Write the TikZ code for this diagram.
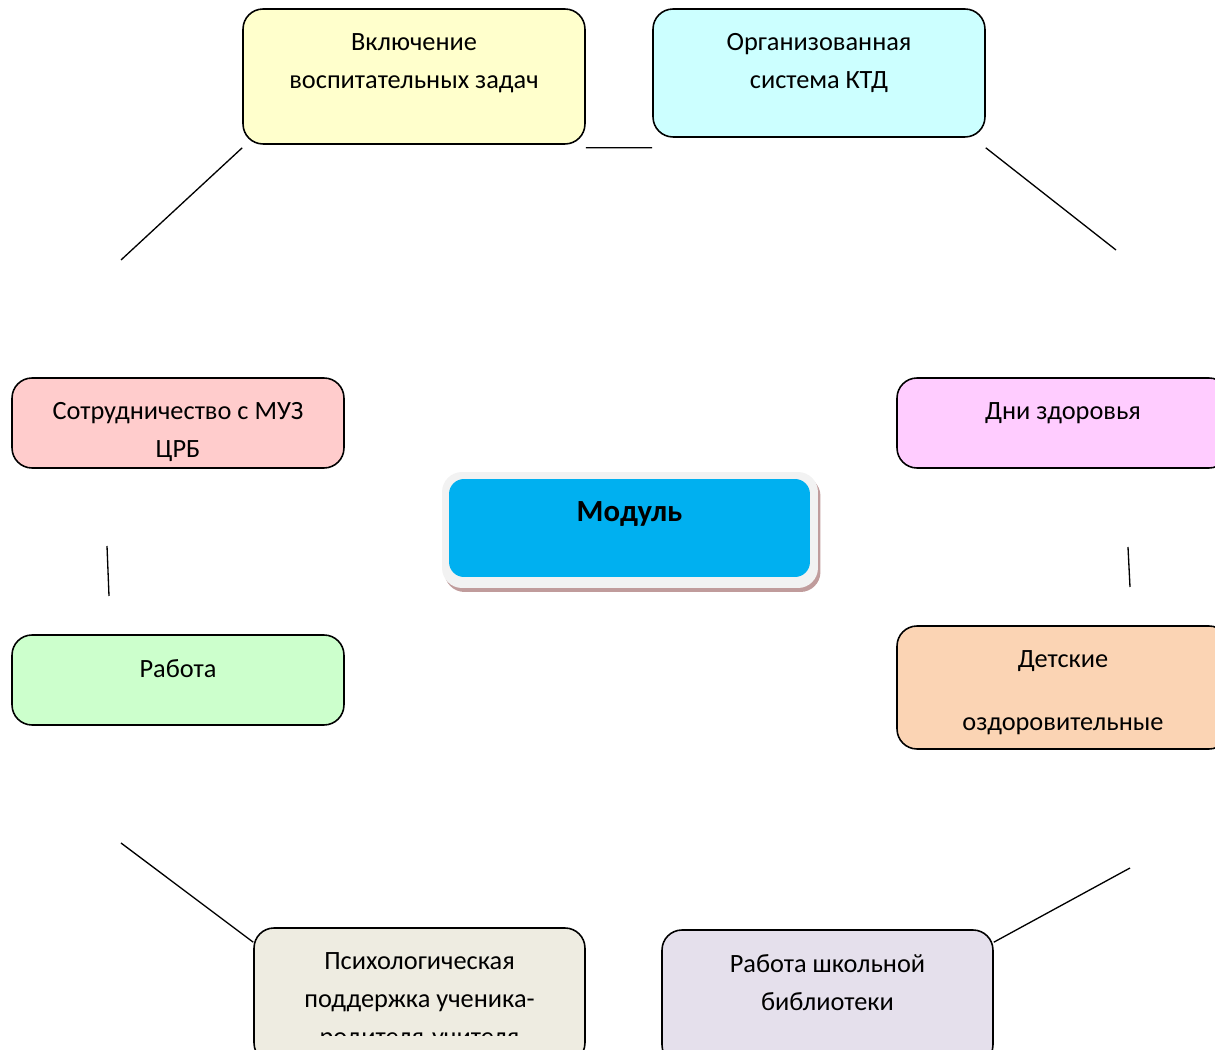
\documentclass[tikz,border=0pt]{standalone}
\usepackage{fontspec}
\setmainfont{Carlito}
\usepackage{tikz}
\usetikzlibrary{shapes,shadows}

\definecolor{vzfill}{HTML}{FFFFCC}
\definecolor{ktdfill}{HTML}{CCFFFF}
\definecolor{muzfill}{HTML}{FFCCCC}
\definecolor{dzfill}{HTML}{FFCCFF}
\definecolor{rabfill}{HTML}{CCFFCC}
\definecolor{dolfill}{HTML}{FBD4B4}
\definecolor{psifill}{HTML}{EEECE1}
\definecolor{bibfill}{HTML}{E5E0EC}
\definecolor{modfill}{HTML}{00B0F0}
\definecolor{modframe}{HTML}{F2F2F2}
\definecolor{modshadow}{HTML}{C09C9C}

\begin{document}
\begin{tikzpicture}[x=0.02cm,y=-0.02cm]
\tikzstyle{box}=[rectangle, draw=black, line width=0.9pt, rounded corners=0.4cm, inner sep=0pt, minimum width=6.64cm, minimum height=1.8cm]
\tikzstyle{txt}=[anchor=north, inner sep=0pt, align=center, font={\fontsize{15}{21.5}\selectfont}]
\tikzstyle{link}=[line width=0.75pt]
\useasboundingbox (0,0) rectangle (1215,1050);
% boxes
\node[box, fill=vzfill, minimum width=6.84cm, minimum height=2.7cm] (VZ) at (414,76.5) {};
\node[box, fill=ktdfill, minimum height=2.56cm] (KTD) at (819,73) {};
\node[box, fill=muzfill] (MUZ) at (178,423) {};
\node[box, fill=dzfill] (DZ) at (1063,423) {};
\node[box, fill=rabfill] (RAB) at (178,680) {};
\node[box, fill=dolfill, minimum height=2.46cm] (DOL) at (1063,687.5) {};
\node[box, fill=psifill, minimum width=6.62cm, minimum height=2.7cm] (PSI) at (419.5,995.5) {};
\node[box, fill=bibfill, minimum width=6.62cm, minimum height=2.7cm] (BIB) at (827.5,997.5) {};
% centre
\node[rectangle, rounded corners=0.4cm, fill=modframe, minimum width=7.52cm, minimum height=2.32cm,
      drop shadow={shadow xshift=0.05cm, shadow yshift=-0.08cm, fill=modshadow, opacity=1}] (MODf) at (630,530) {};
\node[rectangle, rounded corners=0.3cm, fill=modfill, minimum width=7.22cm, minimum height=1.96cm] (MOD) at (629.5,528) {};
% texts
\node[txt] (VZt) at ([yshift=-0.5cm]VZ.north) {Включение\\воспитательных задач};
\node[txt] (KTDt) at ([yshift=-0.5cm]KTD.north) {Организованная\\система КТД};
\node[txt] (MUZt) at ([yshift=-0.5cm]MUZ.north) {Сотрудничество с МУЗ\\ЦРБ};
\node[txt] (DZt) at ([yshift=-0.5cm]DZ.north) {Дни здоровья};
\node[txt] (RABt) at ([yshift=-0.5cm]RAB.north) {Работа};
\node[txt] (DOLt) at ([yshift=-0.5cm]DOL.north) {Детские\\[0.5cm]оздоровительные};
\node[txt] (BIBt) at ([yshift=-0.5cm]BIB.north) {Работа школьной\\библиотеки};
\begin{scope}
\clip (254,928) rectangle (585,1036);
\node[txt] (PSIt) at ([yshift=-0.5cm]PSI.north) {Психологическая\\поддержка ученика-\\родителя-учителя};
\end{scope}
\node[txt, font={\fontsize{17.5}{20}\bfseries}] (MODt) at ([yshift=-0.46cm]MOD.north) {Модуль};
% free ends of the lines
\coordinate (L1) at (121,260);
\coordinate (R1) at (1116,250);
\coordinate (L2a) at (107,546);
\coordinate (L2b) at (109,596);
\coordinate (R2a) at (1128,547);
\coordinate (R2b) at (1130,587);
\coordinate (L3) at (121,843);
\coordinate (R3) at (1130,868);
% lines
\draw[link] ([yshift=-0.06cm]VZ.south east) -- ([yshift=-0.2cm]KTD.south west);
\draw[link] ([yshift=-0.06cm]VZ.south west) -- (L1);
\draw[link] ([yshift=-0.2cm]KTD.south east) -- (R1);
\draw[link] (L2a) -- (L2b);
\draw[link] (R2a) -- (R2b);
\draw[link] (L3) -- ([yshift=-0.3cm]PSI.north west);
\draw[link] (R3) -- ([yshift=-0.26cm]BIB.north east);
\end{tikzpicture}
\end{document}
